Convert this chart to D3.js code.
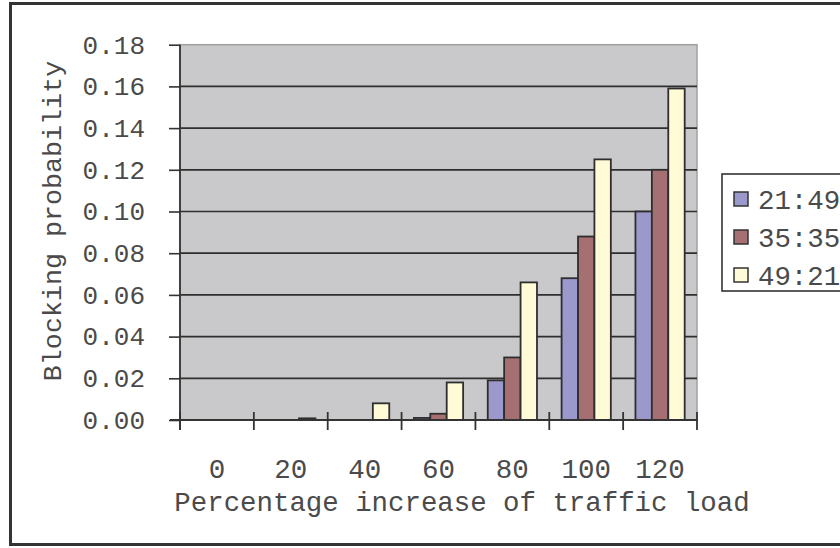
<!DOCTYPE html>
<html>
<head>
<meta charset="utf-8">
<script src="https://cdn.jsdelivr.net/npm/d3@7"></script>
<style>
  html, body { margin: 0; padding: 0; background: #fff; overflow: hidden; }
  svg { display: block; }
  text { font-family: "Liberation Mono", "Courier New", monospace; fill: #4a4a4a; }
</style>
</head>
<body>
<svg id="chart" width="840" height="548"></svg>
<script>
// ---- data ----
const categories = ["0", "20", "40", "60", "80", "100", "120"];
const seriesNames = ["21:49", "35:35", "49:21"];
const s2149 = [0, 0, 0, 0.001, 0.019, 0.068, 0.100];
const s3535 = [0, 0, 0, 0.003, 0.030, 0.088, 0.120];
const s4921 = [0, 0.0008, 0.008, 0.018, 0.066, 0.125, 0.159];
const yTicks = [0, 0.02, 0.04, 0.06, 0.08, 0.10, 0.12, 0.14, 0.16, 0.18];
const xTitle = "Percentage increase of traffic load";
const yTitle = "Blocking probability";

(function () {
const seriesValues = [s2149, s3535, s4921];
const colors = ["#9b98cc", "#a67073", "#fffbd6"];

const svg = d3.select("#chart");

// chart frame
svg.append("rect")
  .attr("x", 10.5).attr("y", 3.5)
  .attr("width", 900).attr("height", 541)
  .attr("fill", "#fff").attr("stroke", "#333").attr("stroke-width", 3);

const pLeft = 180, pRight = 697, pTop = 44.7, pBottom = 420;

const x0 = d3.scaleBand().domain(categories).range([pLeft, pRight]).padding(0);
const step = x0.bandwidth();
const gap = step / 3; // Excel gap width 150%
const x1 = d3.scaleBand().domain(d3.range(seriesNames.length)).range([gap / 2, step - gap / 2]).padding(0);
const y = d3.scaleLinear().domain([0, 0.18]).range([pBottom, pTop]);

// plot area
svg.append("rect")
  .attr("x", pLeft).attr("y", pTop)
  .attr("width", pRight - pLeft).attr("height", pBottom - pTop)
  .attr("fill", "#c9c9cb").attr("stroke", "#a0a0a0").attr("stroke-width", 1.5);

// gridlines
svg.append("g").selectAll("line")
  .data(yTicks.filter(t => t > 0 && t < 0.18))
  .join("line")
  .attr("x1", pLeft).attr("x2", pRight)
  .attr("y1", d => y(d)).attr("y2", d => y(d))
  .attr("stroke", "#2e2e2e").attr("stroke-width", 1.7);

// bars
const data = [];
categories.forEach((c, i) => {
  seriesValues.forEach((vals, s) => data.push({ c, s, v: vals[i] }));
});
svg.append("g").selectAll("rect")
  .data(data.filter(d => d.v > 0))
  .join("rect")
  .attr("x", d => x0(d.c) + x1(d.s))
  .attr("width", x1.bandwidth())
  .attr("y", d => y(d.v))
  .attr("height", d => y(0) - y(d.v))
  .attr("fill", d => colors[d.s])
  .attr("stroke", "#2e2e2e").attr("stroke-width", 1.8);

// y axis
const yAxis = d3.axisLeft(y).tickValues(yTicks).tickFormat(d3.format(".2f")).tickSize(11).tickPadding(24);
const gy = svg.append("g").attr("transform", `translate(${pLeft},0)`).call(yAxis);
gy.select(".domain").remove();
gy.selectAll(".tick line").attr("stroke", "#333").attr("stroke-width", 1.6);
gy.selectAll(".tick text").attr("font-size", 26).attr("font-family", null).attr("fill", "#4a4a4a");
svg.append("line")
  .attr("x1", pLeft).attr("x2", pLeft).attr("y1", pTop).attr("y2", pBottom + 10)
  .attr("stroke", "#333").attr("stroke-width", 1.8);

// x axis
const xAxis = d3.axisBottom(x0).tickSize(0).tickPadding(38);
const gx = svg.append("g").attr("transform", `translate(0,${pBottom})`).call(xAxis);
gx.select(".domain").remove();
gx.selectAll(".tick text").attr("font-size", 27.5).attr("font-family", null).attr("fill", "#4a4a4a");
svg.append("line")
  .attr("x1", pLeft - 10).attr("x2", pRight).attr("y1", pBottom).attr("y2", pBottom)
  .attr("stroke", "#333").attr("stroke-width", 1.8);
const boundaries = categories.map(c => x0(c)).concat([pRight]);
svg.append("g").selectAll("line")
  .data(boundaries)
  .join("line")
  .attr("x1", d => d).attr("x2", d => d)
  .attr("y1", pBottom - 8).attr("y2", pBottom + 10)
  .attr("stroke", "#333").attr("stroke-width", 1.8);

// axis titles
svg.append("text")
  .attr("x", 462).attr("y", 511)
  .attr("text-anchor", "middle").attr("font-size", 27.4)
  .text(xTitle);
svg.append("text")
  .attr("transform", "translate(61,221) rotate(-90)")
  .attr("text-anchor", "middle").attr("font-size", 26.7)
  .text(yTitle);

// legend
const lg = svg.append("g");
lg.append("rect")
  .attr("x", 722).attr("y", 174).attr("width", 200).attr("height", 117)
  .attr("fill", "#fff").attr("stroke", "#333").attr("stroke-width", 1.6);
seriesNames.forEach((n, i) => {
  const cy = 199 + i * 38;
  lg.append("rect")
    .attr("x", 734).attr("y", cy - 7).attr("width", 14).attr("height", 14)
    .attr("fill", colors[i]).attr("stroke", "#333").attr("stroke-width", 1.5);
  lg.append("text")
    .attr("x", 758).attr("y", cy).attr("dy", "0.35em")
    .attr("font-size", 27.4)
    .text(n);
});
})();
</script>
</body>
</html>
